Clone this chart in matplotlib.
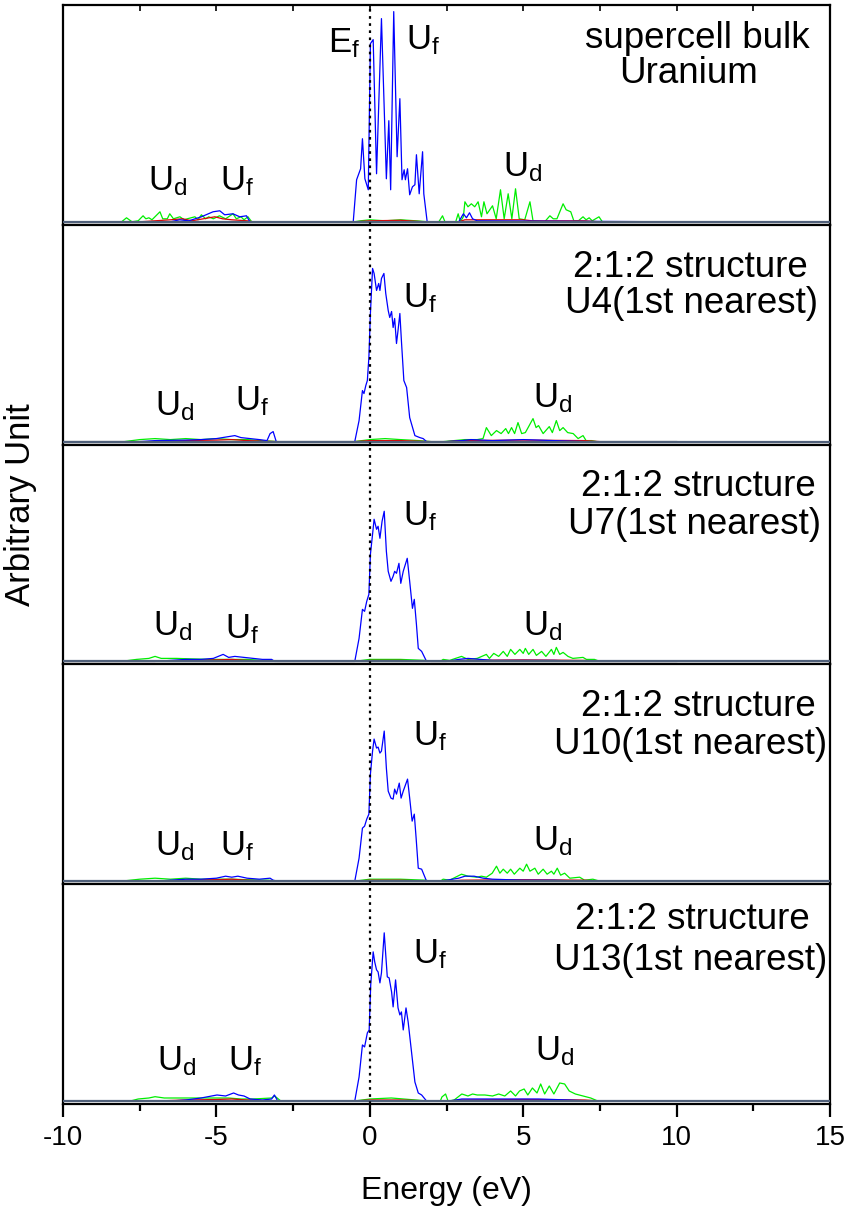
import matplotlib
matplotlib.use('Agg')
import matplotlib.pyplot as plt
from matplotlib.ticker import MultipleLocator

plt.rcParams['font.family'] = ['Liberation Sans', 'DejaVu Sans']
plt.rcParams['mathtext.fontset'] = 'custom'
plt.rcParams['mathtext.rm'] = 'Liberation Sans'
plt.rcParams['mathtext.it'] = 'Liberation Sans:italic'
plt.rcParams['axes.unicode_minus'] = False

# ---------------- data (energy in eV, DOS in arbitrary units) ----------------
# panel 1 : supercell bulk uranium
f1_x = [-10, -6.5, -6.2, -5.9, -5.49, -5.11, -4.89, -4.73, -4.46, -4.24, -4.02, -3.91,
        -0.54, -0.43, -0.30, -0.24, -0.16, -0.05, 0.02, 0.11, 0.22, 0.38, 0.54, 0.62, 0.68,
        0.78, 0.89, 0.98, 1.05, 1.12, 1.16, 1.23, 1.30, 1.39, 1.47, 1.52, 1.61, 1.72, 1.76,
        1.87, 2.9, 3.05, 3.15, 3.25, 3.35, 3.5, 10]
f1_y = [0, 0, 2, 1, 5, 10, 11, 7, 8, 5, 6, 0,
        0, 42, 53, 83, 43, 32, 178, 182, 48, 203, 43, 101, 32,
        210, 65, 123, 42, 52, 42, 53, 27, 35, 37, 67, 28, 70, 28,
        0, 0, 8, 4, 9, 3, 1, 0]
d1_x = [-10, -8.3, -8.09, -7.93, -7.75, -7.55, -7.39, -7.3, -7.2, -7.1, -6.84, -6.75, -6.6,
        -6.52, -6.4, -6.19, -6.05, -5.95, -5.70, -5.6, -5.49, -5.35, -5.25, -5.1, -4.9,
        -4.7, -4.46, -4.35, -4.2, -4.1, -3.97, -3.85,
        -0.5, -0.3, 0, 0.5, 1, 1.5, 1.9,
        2.25, 2.37, 2.45, 2.8, 2.88, 2.95, 3.05, 3.10, 3.20, 3.31, 3.42, 3.53, 3.64, 3.72,
        3.82, 4.00, 4.12, 4.26, 4.38, 4.51, 4.63, 4.75, 4.87, 5.05, 5.22, 5.32, 5.7, 5.87,
        5.98, 6.1, 6.30, 6.4, 6.55, 6.65, 6.8, 6.95, 7.05, 7.15, 7.25, 7.47, 7.58, 10]
d1_y = [0, 0, 0, 4, 0, 1, 6, 3, 4, 2, 10, 3, 3,
        8, 3, 5, 2, 3, 5, 2, 7, 3, 5, 3, 6,
        3, 8, 3, 5, 2, 5, 0,
        0, 1, 2, 1, 2, 1, 0,
        0, 6, 0, 0, 8, 0, 5, 20, 15, 18, 15, 20, 5, 20,
        8, 16, 3, 32, 3, 28, 3, 33, 3, 2, 20, 1, 0, 6,
        3, 3, 18, 12, 10, 1, 1, 5, 2, 4, 1, 5, 0, 0]
r1_x = [-10, -7.5, -7, -6.5, -6.1, -5.8, -5.05, -4.8, -4.5, -4, -3.8, -0.5, 0, 1, 1.8,
        2.9, 3.1, 4, 5, 5.3, 7, 7.5, 10]
r1_y = [0, 0, 1, 2, 3, 1, 5, 3, 2, 1, 0, 0, 1, 1.5, 0,
        0, 2, 2, 2, 1, 1, 0, 0]

# panel 2 : 2:1:2 structure, U4
f2_x = [-10, -7.5, -7, -6, -5.5, -5, -4.6, -4.4, -4.2, -3.9, -3.6, -3.35, -3.25, -3.15, -3.05,
        -0.49, -0.35, -0.24, -0.19, -0.13, -0.08, -0.03, 0.02, 0.09, 0.14, 0.22, 0.29, 0.33,
        0.38, 0.46, 0.52, 0.60, 0.65, 0.71, 0.76, 0.81, 0.87, 0.92, 0.98, 1.03, 1.11, 1.20,
        1.30, 1.47, 1.63, 1.74, 1.85,
        2.5, 3.0, 3.3, 4, 5, 6, 7, 10]
f2_y = [0, 0, 1, 1.5, 2, 3, 5, 6, 4, 3, 2, 1, 8, 10, 0,
        0, 21, 51, 48, 56, 61, 84, 128, 173, 168, 151, 158, 151,
        163, 168, 148, 131, 124, 130, 114, 123, 98, 111, 128, 101, 61, 54,
        24, 6, 4, 3, 0,
        0, 1, 2, 1, 2, 1, 0, 0]
d2_x = [-10, -8, -7.5, -7, -6.5, -6, -5.5, -5, -4.5, -4, -3.5, -3,
        -0.5, 0, 0.5, 1, 1.6, 2,
        2.4, 3.10, 3.5, 3.69, 3.80, 3.96, 4.13, 4.28, 4.43, 4.52, 4.62, 4.72, 4.83, 4.95,
        5.07, 5.16, 5.32, 5.42, 5.50, 5.65, 5.85, 5.95, 6.08, 6.19, 6.30, 6.45, 6.63, 6.79,
        6.95, 7.05, 7.23, 7.4, 10]
d2_y = [0, 0, 2, 3, 2, 3, 2, 3, 2, 2, 1, 0,
        0, 2, 3, 2, 1, 0,
        0, 2, 2, 3, 14, 6, 11, 8, 13, 8, 14, 8, 19, 8,
        9, 14, 23, 14, 16, 8, 15, 9, 21, 11, 14, 9, 8, 3,
        6, 1, 1, 0, 0]

# panel 3 : 2:1:2 structure, U7
f3_x = [-10, -7, -6.5, -6, -5.5, -5.1, -4.78, -4.6, -4.4, -4.1, -3.8, -3.5, -3.2, -3.1,
        -0.49, -0.35, -0.24, -0.17, -0.10, -0.03, 0.02, 0.09, 0.14, 0.22, 0.27, 0.33, 0.40,
        0.47, 0.54, 0.60, 0.69, 0.76, 0.81, 0.87, 0.95, 1.01, 1.09, 1.22, 1.30, 1.39, 1.45,
        1.52, 1.58, 1.69, 1.85,
        2.5, 2.9, 3.2, 3.6, 4, 5, 6, 7, 10]
f3_y = [0, 0, 1, 2, 2, 3, 7, 4, 5, 4, 3, 2, 2, 0,
        0, 23, 52, 50, 60, 67, 107, 127, 142, 132, 135, 123, 140,
        150, 110, 90, 80, 85, 90, 88, 98, 78, 90, 103, 80, 53, 62,
        37, 13, 10, 0,
        0, 2, 3, 2, 1, 1, 1, 0, 0]
d3_x = [-10, -8.1, -7.6, -7.2, -7.0, -6.8, -6.3, -5.8, -5.2, -4.6, -4, -3.5, -3.1,
        -0.5, 0, 1, 1.8, 2,
        2.3, 2.39, 2.6, 2.99, 3.2, 3.5, 3.80, 3.9, 4.04, 4.2, 4.35, 4.48, 4.59, 4.73, 4.89,
        5.0, 5.07, 5.18, 5.32, 5.43, 5.60, 5.74, 5.92, 6.0, 6.08, 6.19, 6.30, 6.46, 6.62,
        6.95, 7.06, 7.32, 7.5, 10]
d3_y = [0, 0, 2, 3, 5, 3, 3, 2.5, 2, 2, 2, 1, 0,
        0, 2, 2, 1, 0,
        0, 2, 1, 5, 2, 3, 7, 3, 8, 5, 10, 5, 12, 7, 12,
        8, 13, 7, 12, 6, 10, 5, 12, 7, 14, 7, 9, 5, 3,
        4, 2, 2, 0, 0]

# panel 4 : 2:1:2 structure, U10
f4_x = [-10, -7, -6.5, -6, -5.5, -5.0, -4.7, -4.5, -4.3, -4, -3.6, -3.25, -3.15, -3.0,
        -0.49, -0.35, -0.24, -0.17, -0.10, -0.03, 0.02, 0.09, 0.14, 0.22, 0.27, 0.33, 0.38,
        0.47, 0.54, 0.60, 0.69, 0.76, 0.81, 0.87, 0.96, 1.02, 1.09, 1.23, 1.30, 1.38, 1.45,
        1.51, 1.58, 1.69, 1.85,
        2.3, 2.9, 3.1, 3.4, 3.7, 4, 5, 6, 7, 10]
f4_y = [0, 0, 1, 2, 2, 3, 5, 4, 5, 3, 2, 3, 1, 0,
        0, 23, 53, 55, 62, 67, 107, 130, 142, 133, 134, 128, 130,
        150, 113, 90, 83, 82, 92, 87, 98, 83, 90, 102, 83, 60, 67,
        43, 13, 12, 0,
        0, 3, 5, 5, 3, 2, 1, 1, 0, 0]
d4_x = [-10, -8.1, -7.5, -7, -6.5, -6, -5.5, -5, -4.5, -4, -3.3, -3,
        -0.5, 0, 1, 1.8, 2,
        2.3, 2.39, 2.6, 2.99, 3.2, 3.48, 3.64, 3.80, 3.99, 4.13, 4.24, 4.35, 4.48, 4.59,
        4.71, 4.89, 5.0, 5.11, 5.22, 5.38, 5.49, 5.65, 5.78, 5.92, 6.0, 6.11, 6.22, 6.35,
        6.52, 6.84, 7.0, 7.27, 7.5, 10]
d4_y = [0, 0, 2, 3, 2, 3, 2, 2, 2, 1.5, 1, 0,
        0, 2, 2, 1, 0,
        0, 2, 1, 7, 5, 4, 5, 4, 8, 15, 8, 12, 8, 12,
        7, 13, 10, 17, 10, 13, 7, 12, 7, 10, 7, 13, 6, 8,
        3, 4, 1, 2, 0, 0]

# panel 5 : 2:1:2 structure, U13
f5_x = [-10, -6.5, -6, -5.5, -4.98, -4.7, -4.44, -4.28, -4.1, -3.9, -3.5, -3.2, -3.11, -3.0,
        -0.49, -0.35, -0.24, -0.17, -0.08, -0.02, 0.03, 0.11, 0.16, 0.22, 0.27, 0.33, 0.38,
        0.47, 0.57, 0.63, 0.71, 0.76, 0.84, 0.92, 0.98, 1.03, 1.09, 1.18, 1.25, 1.36, 1.47,
        1.58, 1.69, 1.85,
        2.6, 3.0, 3.5, 4.5, 5.5, 6.5, 7.2, 10]
f5_y = [0, 0, 1, 3, 6, 5, 8, 6, 5, 2, 1, 2, 6, 0,
        0, 24, 56, 54, 68, 71, 116, 149, 139, 131, 129, 118, 128,
        168, 124, 123, 109, 94, 121, 93, 86, 89, 71, 93, 79, 49, 19,
        8, 6, 0,
        0, 2, 2, 2, 2, 1, 0, 0]
d5_x = [-10, -7.8, -7.55, -7.2, -7.0, -6.7, -6.2, -5.6, -5.1, -4.6, -4.2, -3.8, -3.2, -3.1, -2.9,
        -0.5, 0, 0.7, 1.5, 1.9,
        2.3, 2.35, 2.47, 2.55, 2.75, 3.0, 3.2, 3.35, 3.5, 3.75, 4.0, 4.2, 4.4, 4.59, 4.75,
        4.88, 5.03, 5.15, 5.3, 5.45, 5.57, 5.7, 5.85, 6.0, 6.19, 6.35, 6.5, 6.7, 6.95, 7.2,
        7.43, 10]
d5_y = [0, 0, 2, 3, 4.3, 3, 3, 3, 3, 3, 2, 2, 3, 5, 0,
        0, 2, 3, 1, 0,
        0, 4, 7, 0, 1, 7, 5, 7, 6, 6, 5, 7, 5, 10, 5,
        10, 12, 6, 13, 8, 17, 7, 15, 7, 18, 17, 10, 7, 5, 3,
        0, 0]

# weak red component, panels 2-5
r_x = [-10, -7, -6, -5, -4.5, -4, -3, -0.5, 0, 1, 2, 2.5, 3, 5, 7, 7.5, 10]
r_y = [0, 0, 1, 1.5, 2, 1, 0, 0, 1, 1, 0, 0, 1, 1.5, 1, 0, 0]

f_x = [f1_x, f2_x, f3_x, f4_x, f5_x]
f_y = [f1_y, f2_y, f3_y, f4_y, f5_y]
d_x = [d1_x, d2_x, d3_x, d4_x, d5_x]
d_y = [d1_y, d2_y, d3_y, d4_y, d5_y]
red_x = [r1_x, r_x, r_x, r_x, r_x]
red_y = [r1_y, r_y, r_y, r_y, r_y]

titles = [('supercell bulk', 'Uranium'),
          ('2:1:2 structure', 'U4(1st nearest)'),
          ('2:1:2 structure', 'U7(1st nearest)'),
          ('2:1:2 structure', 'U10(1st nearest)'),
          ('2:1:2 structure', 'U13(1st nearest)')]

# label anchors (x in eV, y in plot units) per panel
title_pos = [((10.66, 174), (10.40, 139)),
             ((10.46, 164), (10.50, 128)),
             ((10.72, 165), (10.59, 127)),
             ((10.72, 165), (10.46, 127)),
             ((10.53, 172), (10.46, 131))]
uf_main = [(1.17, 172), (1.08, 134), (1.08, 136), (1.40, 136), (1.40, 138)]
ud_left = [(-7.24, 31), (-7.01, 26), (-7.07, 26), (-7.01, 26), (-6.94, 31)]
uf_left = [(-4.89, 31), (-4.40, 31), (-4.73, 23), (-4.89, 26), (-4.63, 31)]
ud_right = [(4.34, 45), (5.31, 34), (4.99, 26), (5.31, 31), (5.38, 41)]

UF = r'$\mathrm{U}_\mathrm{f}$'
UD = r'$\mathrm{U}_\mathrm{d}$'

fig = plt.figure(figsize=(8.48, 12.18), dpi=100)
axes = fig.subplots(5, 1, sharex=True)
fig.subplots_adjust(left=63/848, right=830/848, top=1-5/1218, bottom=1-1104/1218, hspace=0)

title_fs = 26.5
u_fs = 25
for i, ax in enumerate(axes):
    ax.plot(f_x[i], f_y[i], color='#0000ff', lw=0.9, zorder=3)
    ax.plot(d_x[i], d_y[i], color='#00ee00', lw=0.9, zorder=2)
    ax.plot(red_x[i], red_y[i], color='#dd0000', lw=0.9, zorder=2.5)
    ax.axhline(0, color='#50607a', lw=1.6, zorder=4)
    ax.axvline(0, color='black', lw=1.6, ls=(0, (1.2, 2.0)), zorder=5)
    ax.set_xlim(-10, 15)
    ax.set_ylim(-3, 216.6)
    ax.set_yticks([])
    for sp in ax.spines.values():
        sp.set_linewidth(1.6)
    ax.tick_params(axis='x', which='both', bottom=False, top=False, labelbottom=False)

    (x1, y1), (x2, y2) = title_pos[i]
    ax.text(x1, y1, titles[i][0], ha='center', va='baseline', fontsize=title_fs)
    ax.text(x2, y2, titles[i][1], ha='center', va='baseline', fontsize=title_fs)
    ax.text(uf_main[i][0], uf_main[i][1], UF, ha='left', va='baseline', fontsize=u_fs)
    ax.text(ud_left[i][0], ud_left[i][1], UD, ha='left', va='baseline', fontsize=u_fs)
    ax.text(uf_left[i][0], uf_left[i][1], UF, ha='left', va='baseline', fontsize=u_fs)
    ax.text(ud_right[i][0], ud_right[i][1], UD, ha='left', va='baseline', fontsize=u_fs)

axes[0].text(-1.37, 169, r'$\mathrm{E}_\mathrm{f}$', ha='left', va='baseline', fontsize=u_fs)
axes[0].tick_params(axis='x', which='both', top=True, direction='in', length=4, width=1.2)

bot = axes[-1]
bot.xaxis.set_major_locator(MultipleLocator(5))
bot.xaxis.set_minor_locator(MultipleLocator(2.5))
bot.tick_params(axis='x', which='both', bottom=True, labelbottom=True, direction='out', width=1.6)
bot.tick_params(axis='x', which='major', length=9, labelsize=20, pad=6)
bot.tick_params(axis='x', which='minor', length=5)
bot.set_xlabel('Energy (eV)', fontsize=23, labelpad=18)

fig.text(0.024, 1 - 505/1218, 'Arbitrary Unit', rotation=90, ha='center', va='center', fontsize=25)

fig.savefig('out.png', dpi=100)
